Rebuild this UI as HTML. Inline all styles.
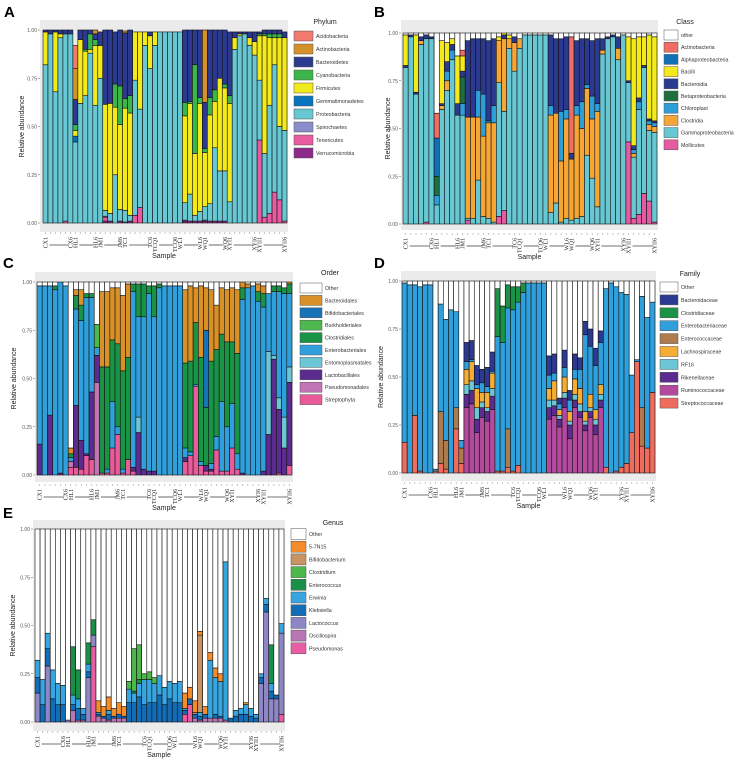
<!DOCTYPE html>
<html><head><meta charset="utf-8"><style>
html,body{margin:0;padding:0;background:#fff;width:742px;height:763px;overflow:hidden}
svg{display:block;font-family:"Liberation Sans",sans-serif}
</style></head><body>
<svg id="fig" width="742" height="763" viewBox="0 0 742 763"></svg>
<script>
// ---------- Panel A: Phylum ----------
const A_acido  = [0,0,0,0,0,0,.12,0,0,0, 0,0,0,0,0,0,0,0,0,0, 0,0,0,0,0,0,0,0,0,0, 0,0,0,0,0,0,0,0,0,0, 0,0,0,0,0,0,0,0,0];
const A_actino = [0,0,0,0,0,0,.16,0,0,0, .02,0,0,0,0,0,.01,0,0,0, 0,0,0,0,0,0,0,0,0,0, 0,0,.38,0,0,0,0,0,0,0, 0,0,0,0,0,0,0,0,0];
const A_bact   = [.01,.02,.01,.02,.02,.02,.13,.05,.10,.02, .03,.07,.39,.38,.27,.29,.34,.34,0,0, 0,.02,0,0,0,0,0,0,.38,.37, .18,.35,.24,.35,.31,.25,.28,.33,.03,.01, .01,.03,.05,.01,.02,.02,.02,.02,.03];
const A_cyano  = [0,0,0,0,0,0,.03,0,.01,.08, .03,0,0,0,.12,.20,.05,.09,0,0, 0,0,0,0,0,0,0,0,.07,.01, .46,.03,.02,.09,.06,0,.02,.04,0,0, 0,0,0,.01,.01,.02,.02,.02,0];
const A_firm   = [.17,0,.31,.02,0,0,.03,.33,.23,.02, .31,.17,.55,.57,.35,.44,.53,.53,.25,.40, .07,.17,.07,0,0,0,0,0,.45,.47, .32,.56,.28,.46,.24,.48,.43,.51,.06,.01, 0,.04,.07,.23,.61,.35,.14,.46,.48];
const A_gemma  = [0,0,0,0,0,0,.03,0,0,0, 0,0,0,0,0,0,0,0,0,0, 0,0,0,0,0,0,0,0,0,0, 0,0,0,0,0,0,0,0,0,0, 0,0,0,0,0,0,0,0,0];
const A_prot   = [.82,.98,.68,.96,.97,.98,.42,.62,.66,.88, .61,.75,.03,.04,.25,.06,.06,.03,.70,.51, .92,.80,.92,.99,.99,.99,.99,.99,.09,.14, .03,.05,.07,.09,.38,.26,.26,.11,.90,.97, .98,.92,.87,.31,.33,.56,.66,.38,.47];
const A_spiro  = [0,0,0,0,0,0,0,0,0,0, 0,0,.005,0,0,0,.005,0,0,0, 0,0,0,0,0,0,0,0,.005,0, 0,0,.005,0,0,0,0,0,0,0, 0,0,0,0,0,0,0,0,0];
const A_tener  = [0,0,0,0,.01,0,0,0,0,0, 0,0,.02,0,0,0,0,0,.04,.08, 0,0,0,0,0,0,0,0,0,0, 0,0,0,0,0,0,0,0,0,0, 0,0,0,.43,.03,.05,.16,.12,.01];
const A_verr   = [0,0,0,0,0,0,0,0,0,0, 0,0,.01,.01,0,.01,0,.01,0,0, 0,0,0,0,0,0,0,0,.01,.01, .01,.01,.01,.01,.01,.01,.01,0,0,0, 0,0,0,0,0,0,0,0,0];
// ---------- Panel B: Class ----------
const B_actino = [0,0,0,0,0,0,.13,0,0,0, 0,.03,0,0,0,0,0,0,0,0, 0,0,0,0,0,0,0,0,0,0, 0,0,.61,0,0,0,0,0,0,0, 0,0,0,0,0,0,0,0,0];
const B_alpha  = [0,0,0,0,0,0,.20,0,0,0, 0,0,0,0,0,0,0,0,0,0, 0,0,0,0,0,0,0,0,0,0, 0,0,0,0,0,0,0,0,0,0, 0,0,0,0,0,0,0,0,0];
const B_bacilli= [.16,0,.30,0,0,0,0,.33,.10,.03, .25,.08,0,0,0,0,0,0,.02,.01, .02,0,0,0,0,0,0,0,0,0, 0,0,0,0,0,0,0,0,0,0, 0,0,0,.23,.56,.32,.15,.44,.44];
const B_bact   = [.01,.01,.01,.02,.02,.01,0,.01,.05,.03, .06,.03,.40,.41,.27,.29,.42,.35,0,.02, 0,.03,0,0,0,0,0,0,.37,.39, .38,.38,.03,.34,.33,.24,.29,.34,.06,.01, .01,.06,0,.01,.02,.02,.01,.01,.01];
const B_beta   = [0,0,0,0,0,0,.10,0,0,0, 0,.14,0,0,0,0,0,0,0,0, 0,0,0,0,0,0,0,0,0,0, 0,0,0,0,0,0,0,0,0,0, 0,0,0,0,0,0,0,0,0];
const B_chloro = [0,0,0,0,0,0,.05,0,.05,.05, 0,.06,0,0,.14,.22,.01,.09,0,0, 0,0,0,0,0,0,0,0,.05,0, .26,.05,0,.05,.14,.02,.12,.04,0,0, 0,0,0,0,.02,.04,0,.02,.02];
const B_clost  = [0,0,0,.02,0,0,0,.02,.05,0, 0,0,.53,.53,.33,.42,.50,.52,.22,.38, .05,.15,.05,0,0,0,0,0,.51,.47, .32,.52,.32,.54,.46,.35,.31,.50,.02,0, 0,.06,0,0,.02,0,0,.03,.03];
const B_gamma  = [.82,.98,.68,.94,.96,.97,.10,.60,.70,.86, .57,.57,.01,.03,.23,.04,.03,.01,.70,.52, .92,.80,.92,.99,.99,.99,.99,.99,.06,.11, .01,.03,.02,.03,.04,.36,.24,.09,.89,.97, .98,.86,.99,.31,.32,.55,.66,.37,.47];
const B_moll   = [0,0,0,0,.01,0,0,0,0,0, 0,0,.02,0,0,0,0,0,.04,.07, 0,0,0,0,0,0,0,0,0,0, 0,0,0,0,0,0,0,0,0,0, 0,0,0,.43,.03,.05,.16,.12,.01];
// ---------- Panel C: Order ----------
const C_bacter = [0,0,0,0,0,0,.03,.03,.08,0, 0,0,.39,.39,.27,.29,.39,.38,0,0, 0,0,0,0,0,0,0,0,.38,.39, .18,.37,.22,.37,.23,.24,.27,.28,.33,.03, .02,0,.04,.04,0,0,0,0,.02];
const C_bifido = [0,0,0,0,0,0,0,0,0,0, 0,0,0,0,0,0,0,0,0,0, 0,0,0,0,0,0,0,0,0,0, 0,0,.40,0,0,0,0,0,0,0, 0,0,0,0,0,0,0,0,0];
const C_burk   = [0,0,0,0,0,0,0,0,0,0, 0,.12,0,0,0,0,0,0,0,0, 0,0,0,0,0,0,0,0,0,0, 0,0,0,0,0,0,0,0,0,0, 0,0,0,0,0,0,0,0,0];
const C_clostr = [0,0,0,.02,0,0,.02,.07,.08,.02, .02,0,.55,.53,.32,.43,.51,.53,.04,.17, .17,.04,.16,.02,0,0,0,0,.44,.47, .32,.54,.30,.53,.45,.35,.44,.32,.52,.06, 0,0,.05,.07,0,.03,.03,.03,.05];
const C_entero = [.82,.98,.67,.96,.99,.98,.02,.50,.62,.81, .49,.04,0,.02,.24,.04,.02,0,.91,.52, .79,.92,.80,.97,.98,.98,.98,.98,.05,.02, .01,.02,0,.03,.07,.36,.23,.23,.08,.90, .97,.98,.90,.85,.30,.33,.55,.64,.38];
const C_entomo = [0,0,0,0,0,0,0,0,0,0, 0,0,0,0,0,0,0,0,0,.08, 0,0,0,0,0,0,0,0,0,0, 0,0,0,0,0,0,0,0,0,0, 0,0,0,0,.43,.02,.06,.16,.08];
const C_lacto  = [.16,0,.31,0,.01,0,0,.32,.15,.01, .35,.14,0,0,0,0,0,0,.02,.22, .03,.02,.02,0,0,0,0,0,.02,0, 0,0,.03,.01,0,0,0,0,0,.01, 0,0,0,.02,.21,.60,.33,.14,.43];
const C_pseudo = [0,0,0,0,0,0,.03,0,0,0, 0,.48,0,0,0,0,0,0,0,0, 0,0,0,0,0,0,0,0,0,0, 0,0,0,0,0,0,0,0,0,0, 0,0,0,0,0,0,0,0,0];
const C_strep  = [0,0,0,0,0,0,.04,.04,.03,.10, .08,0,.01,.01,.14,.21,.01,.08,.02,0, 0,0,0,0,0,0,0,0,.07,.10, .46,.05,.02,.02,.13,.02,.02,.14,.03,0, 0,0,0,0,0,0,.01,0,.05];
// ---------- Panel D: Family ----------
const D_bactd  = [0,0,0,0,0,0,0,0,0,0, 0,0,.10,.10,.10,.07,.10,.10,0,0, 0,0,0,0,0,0,0,0,.10,.10, .03,.09,.05,.08,.06,.07,.09,.09,.06,0, 0,0,0,0,0,0,0,0,0];
const D_clost  = [0,0,0,0,0,0,0,0,0,0, 0,0,0,0,0,0,0,0,.25,.19, .12,.12,.08,.05,0,0,0,0,0,0, 0,0,0,0,0,0,0,0,0,0, 0,0,0,0,0,0,0,0,0];
const D_entb   = [.83,.98,.68,.96,.98,.98,.01,.56,.63,.85, .50,.04,.04,.01,.02,.05,.03,.01,.70,.67, .63,.84,.85,.94,.99,.99,.99,.99,.07,.04, .03,.05,.06,.05,.10,.40,.25,.23,.22,.93, .99,.96,.91,.88,.30,.01,.58,.68,.47];
const D_entc   = [0,0,0,0,0,0,0,.27,.15,0, .11,.08,0,0,0,0,0,0,0,0, .20,0,0,0,0,0,0,0,0,0, 0,0,0,0,0,0,0,0,0,0, 0,0,0,0,0,0,.20,0,0];
const D_lach   = [0,0,0,0,0,0,0,0,0,0, 0,0,.08,.10,.10,.05,.08,.08,0,0, 0,0,0,0,0,0,0,0,.06,.10, .03,.08,.05,.08,.08,.05,.07,.05,.05,0, 0,0,0,0,0,0,0,0,0];
const D_rf     = [0,0,0,0,0,0,0,0,0,0, 0,0,.05,.05,.06,.03,.02,.04,0,0, 0,0,0,0,0,0,0,0,.04,.03, .02,.03,.02,.03,.04,.02,.02,.03,.03,0, 0,0,0,0,0,0,0,0,0];
const D_rik    = [0,0,0,0,0,0,0,0,0,0, 0,0,.07,.07,.07,.05,.05,.07,0,0, 0,0,0,0,0,0,0,0,.06,.05, .04,.05,.07,.04,.03,.03,.03,.05,.04,0, 0,0,0,0,0,0,0,0,0];
const D_rum    = [0,0,0,0,0,0,0,0,0,0, 0,0,.34,.36,.21,.29,.27,.33,0,0, 0,0,0,0,0,0,0,0,.28,.30, .24,.34,.18,.34,.29,.22,.29,.20,.34,0, 0,0,0,0,0,0,0,0,0];
const D_strep  = [.16,0,.30,.01,0,0,.01,.05,.02,0, .23,.05,0,0,0,0,0,0,.01,.01, .03,.01,.04,0,0,0,0,0,0,0, 0,0,0,0,0,0,0,0,0,.03, 0,.01,.03,.05,.21,.58,.14,.13,.42];
// ---------- Panel E: Genus ----------
const E_five   = [0,0,0,0,0,0,0,0,0,0, 0,0,.06,.05,.07,.04,.06,.05,0,0, 0,0,0,0,0,0,0,0,0,.08, .06,.06,.02,.04,.04,.05,.04,0,0,0, 0,.01,0,0,0,0,0,0,0];
const E_bif    = [0,0,0,0,0,0,0,0,0,0, 0,0,0,0,0,0,0,0,0,0, 0,0,0,0,0,0,0,0,0,0, 0,.01,.40,0,0,0,0,0,0,0, 0,0,0,0,0,0,0,0,0];
const E_clo    = [0,0,0,0,0,0,0,0,0,0, 0,0,0,0,0,0,0,0,.04,.22, .18,.03,.04,.03,0,0,0,0,0,0, 0,0,0,0,0,0,0,0,0,0, 0,0,0,0,0,0,0,0,0];
const E_ent    = [0,0,0,0,0,0,0,.25,.15,0, .11,.08,0,0,0,0,0,0,0,.01, .02,0,0,0,0,0,0,0,0,0, 0,0,0,0,0,0,0,0,0,0, 0,0,0,0,0,0,.20,0,0];
const E_erw    = [.09,.13,.08,.15,.11,.10,0,.05,.05,.03, .04,0,.01,0,.02,0,0,0,.07,.05, .07,.13,.12,.10,.10,.09,.09,.10,.11,.01, 0,0,.02,0,.30,.19,.18,.82,0,.03, .03,.05,.04,.02,.02,.03,.04,0,.05];
const E_kleb   = [.08,.09,.09,.12,.09,.09,0,.03,.06,.03, .03,0,.01,.01,.03,.01,.02,.01,.10,.10, .13,.09,.10,.10,.14,.09,.12,.10,.10,.02, .03,.02,.02,.02,0,.02,.01,0,.02,.03, .04,.04,.03,.02,.03,.04,.04,.02,0];
const E_lacto  = [.15,0,.29,0,0,0,0,0,0,0, .23,.06,0,0,0,0,0,0,0,0, 0,0,0,0,0,0,0,0,0,0, 0,0,0,0,0,0,0,0,0,0, 0,0,0,0,.20,.57,.12,.12,.42];
const E_osc    = [0,0,0,0,0,0,.01,.06,.01,.01, 0,0,.03,.02,.01,.02,.02,.02,0,0, 0,0,0,0,0,0,0,0,0,0, 0,.02,.01,.02,.02,.02,.02,.01,0,0, 0,0,0,0,0,0,0,0,0];
const E_pseu   = [0,0,0,0,0,0,0,0,0,0, 0,.39,0,0,0,0,0,0,0,0, 0,0,0,0,0,0,0,0,0,.04, .09,0,0,0,0,0,0,0,0,0, 0,0,0,0,0,0,0,0,.04];
// ---------- Axis labels ----------
const tickLabels = ["1.00","0.75","0.50","0.25","0.00"];
const tickValues = [1,0.75,0.5,0.25,0];
const sampleLabels = ["CX1","CX6","HL1","HL6","JM1","JM6","TC1","TC6","TCQ1","TCQ6","WL1","WL6","WQ1","WQ6","XYI1","XYI6","XYII1","XYII6"];
const sampleIdx = [0,5,6,10,11,15,16,21,22,26,27,31,32,36,37,42,43,48];

const NS="http://www.w3.org/2000/svg";
const svg=document.getElementById('fig');
function mk(tag,attrs,parent){const e=document.createElementNS(NS,tag);for(const k in attrs)e.setAttribute(k,attrs[k]);(parent||svg).appendChild(e);return e;}

const panels=[
 {id:'a',letter:'A',lx:4,ly:17,bg:[40,20,248,212],bx0:43,bx1:287,y1:30,y0:223,other:null,
  title:'Phylum',tx:325,ty:24,sx:294,sw:19,sh:10,sy:36,sstep:13,ytx:24,
  series:[['Acidobacteria','#f07a6e',A_acido],['Actinobacteria','#d4902b',A_actino],['Bacteroidetes','#2b3990',A_bact],['Cyanobacteria','#3cb54a',A_cyano],['Firmicutes','#f4e91b',A_firm],['Gemmatimonadetes','#0a73c0',A_gemma],['Proteobacteria','#67c7d3',A_prot],['Spirochaetes','#8a8ccc',A_spiro],['Tenericutes','#e95aa0',A_tener],['Verrucomicrobia','#8c2a8c',A_verr]]},
 {id:'b',letter:'B',lx:374,ly:17,bg:[401,20,257,210],bx0:403,bx1:657,y1:33,y0:224,other:'other',
  title:'Class',tx:685,ty:24,sx:664,sw:14,sh:10,sy:35,sstep:12.2,ytx:390,
  series:[['Actinobacteria','#ef6d62',B_actino],['Alphaproteobacteria','#1071b9',B_alpha],['Bacilli','#f4e91b',B_bacilli],['Bacteroidia','#2b3990',B_bact],['Betaproteobacteria','#1e6e3f',B_beta],['Chloroplast','#2e9ed9',B_chloro],['Clostridia','#f6a634',B_clost],['Gammaproteobacteria','#67c7d3',B_gamma],['Mollicutes','#e55aa0',B_moll]]},
 {id:'c',letter:'C',lx:3,ly:268,bg:[35,272,258,210],bx0:37,bx1:292,y1:282,y0:475,other:'Other',
  title:'Order',tx:330,ty:275,sx:300,sw:22,sh:10,sy:288,sstep:12.4,ytx:16,
  series:[['Bacteroidales','#d99127',C_bacter],['Bifidobacteriales','#1872b8',C_bifido],['Burkholderiales','#4db84e',C_burk],['Clostridiales','#199447',C_clostr],['Enterobacteriales','#2fa0dc',C_entero],['Entomoplasmatales','#6bc6d6',C_entomo],['Lactobacillales','#5b2b8f',C_lacto],['Pseudomonadales','#c274b5',C_pseudo],['Streptophyta','#ea5b9b',C_strep]]},
 {id:'d',letter:'D',lx:374,ly:268,bg:[401,271,255,210],bx0:402,bx1:655,y1:281,y0:473,other:'Other',
  title:'Family',tx:690,ty:276,sx:660,sw:18,sh:10,sy:287,sstep:12.9,ytx:383,
  series:[['Bacteroidaceae','#2b3990',D_bactd],['Clostridiaceae','#1a9346',D_clost],['Enterobacteriaceae','#2fa0dc',D_entb],['Enterococcaceae','#ad7b4c',D_entc],['Lachnospiraceae','#f6ad34',D_lach],['RF16','#6bc7d6',D_rf],['Rikenellaceae','#5b2b8f',D_rik],['Ruminococcaceae','#b44a9e',D_rum],['Streptococcaceae','#ef6b5e',D_strep]]},
 {id:'e',letter:'E',lx:3,ly:518,bg:[33,520,252,211],bx0:35,bx1:284,y1:529,y0:722,other:'Other',
  title:'Genus',tx:333,ty:525,sx:291,sw:15,sh:11,sy:534,sstep:12.7,ytx:15,
  series:[['5-7N15','#f48c2a',E_five],['Bifidobacterium','#c89463',E_bif],['Clostridium','#4cb84b',E_clo],['Enterococcus','#1a8f47',E_ent],['Erwinia','#36a5e0',E_erw],['Klebsiella','#126db6',E_kleb],['Lactococcus','#8d87c6',E_lacto],['Oscillospira','#b876b5',E_osc],['Pseudomonas','#e85ea2',E_pseu]]}
];

panels.forEach(p=>{
  const g=mk('g',{});
  
  
  const letter=mk('text',{x:p.lx,y:p.ly,'font-size':15,'font-weight':'bold',fill:'#000'},g);
  letter.textContent=p.letter;
  
  
  const bg=mk('rect',{x:p.bg[0],y:p.bg[1],width:p.bg[2],height:p.bg[3],fill:'#ebebeb'},g);
  
  
  const n=p.series[0][2].length;
  const bw=(p.bx1-p.bx0)/n;
  const ys=v=>p.y0-(p.y0-p.y1)*v;
  const xs=i=>p.bx0+i*bw;
  for(let i=0;i<n;i++){
    let cum=0;
    for(let s=p.series.length-1;s>=0;s--){
      let v=p.series[s][2][i];
      if(cum+v>1)v=1-cum;
      if(v<=0)continue;
      const r=mk('rect',{x:xs(i),y:ys(cum+v),width:bw,height:ys(cum)-ys(cum+v),fill:p.series[s][1],stroke:'#111','stroke-width':0.6},g);
      
      
      cum+=v;
    }
    if(p.other&&cum<1){
      const r=mk('rect',{x:xs(i),y:ys(1),width:bw,height:ys(cum)-ys(1),fill:'#fff',stroke:'#111','stroke-width':0.6},g);
      
      
    }
    const t=mk('circle',{cx:xs(i)+bw/2,cy:p.y0+10,r:0.5,fill:'#666'},g);
    
    
  }
  tickValues.forEach((v,k)=>{
    const t=mk('text',{x:p.bg[0]-3,y:ys(v)+2,'font-size':5,'text-anchor':'end',fill:'#555'},g);
    t.textContent=tickLabels[k];
    
    
    const l=mk('line',{x1:p.bg[0]-2,x2:p.bg[0],y1:ys(v),y2:ys(v),stroke:'#555','stroke-width':0.5},g);
    
    
  });
  const yt=mk('text',{x:p.ytx,y:(p.y0+p.y1)/2,'font-size':7,'text-anchor':'middle',fill:'#222',transform:`rotate(-90 ${p.ytx} ${(p.y0+p.y1)/2})`},g);
  yt.textContent='Relative abundance';
  
  
  sampleIdx.forEach((idx,k)=>{
    const cx=xs(idx)+bw/2+2;
    const ty=p.y0+14;
    const t=mk('text',{x:cx,y:ty,'font-size':6,'text-anchor':'end','font-family':'Liberation Serif, serif',fill:'#222',transform:`rotate(-90 ${cx} ${ty})`},g);
    t.textContent=sampleLabels[k];
    
    
    if(k%2===0){
      const x2=xs(sampleIdx[k+1])+bw/2-2;
      const l=mk('line',{x1:cx+2,x2:x2,y1:p.y0+22,y2:p.y0+22,stroke:'#444','stroke-width':0.8},g);
      
      
    }
  });
  const xt=mk('text',{x:(p.bg[0]+p.bg[0]+p.bg[2])/2,y:p.y0+35,'font-size':7,'text-anchor':'middle',fill:'#222'},g);
  xt.textContent='Sample';
  
  
  const lt=mk('text',{x:p.tx,y:p.ty,'font-size':7,'text-anchor':'middle',fill:'#222'},g);
  lt.textContent=p.title;
  
  
  const entries=(p.other?[[p.other,'#fff']]:[]).concat(p.series.map(s=>[s[0],s[1]]));
  entries.forEach((e,k)=>{
    const cy=p.sy+k*p.sstep;
    const sw=mk('rect',{x:p.sx,y:cy-p.sh/2,width:p.sw,height:p.sh,fill:e[1],stroke:'#555','stroke-width':0.5},g);
    
    
    const tx=mk('text',{x:p.sx+p.sw+3,y:cy+2,'font-size':5.3,fill:'#333'},g);
    tx.textContent=e[0];
    
    
  });
});
</script>
</body></html>
